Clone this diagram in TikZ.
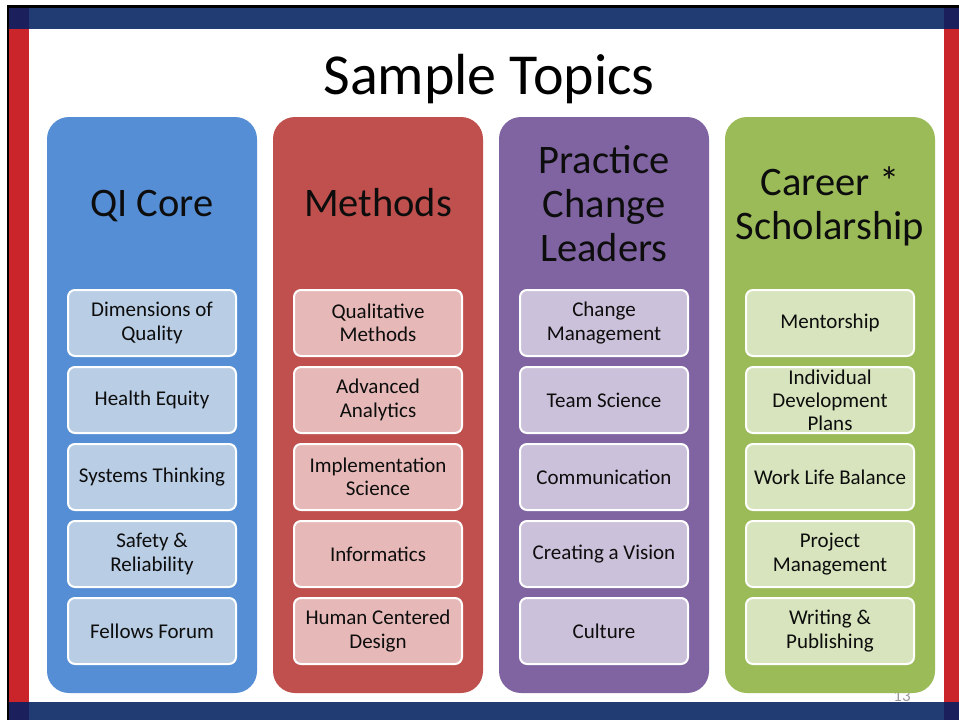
\documentclass[tikz,border=0pt]{standalone}
\usepackage{fontspec}
\setmainfont{Carlito}
\definecolor{navyband}{HTML}{213B73}
\definecolor{navycorner}{HTML}{1B1F5C}
\definecolor{redband}{HTML}{C9252B}
\definecolor{colA}{HTML}{558ED5}
\definecolor{colB}{HTML}{C0504D}
\definecolor{colC}{HTML}{8064A2}
\definecolor{colD}{HTML}{9BBB59}
\definecolor{boxA}{HTML}{B9CDE5}
\definecolor{boxB}{HTML}{E6B9B8}
\definecolor{boxC}{HTML}{CCC1DA}
\definecolor{boxD}{HTML}{D7E4BD}
\definecolor{txt}{HTML}{0D0D0D}
\tikzset{
  column/.style={rounded corners=22pt, minimum width=210pt, minimum height=576pt, inner sep=0pt},
  header/.style={align=center, text=txt, font=\fontsize{40.5}{44}\selectfont},
  item/.style={rounded corners=7pt, draw=white, line width=2pt, minimum width=168pt, minimum height=66pt, inner sep=0pt, align=center, text=txt, font=\fontsize{21}{23.5}\selectfont},
}
\begin{document}
\begin{tikzpicture}[x=1pt,y=-1pt]
\useasboundingbox (0,0) rectangle (959,720);
\fill[white] (0,0) rectangle (959,720);
% page number (partly hidden by band)
\node[text=gray!80, font=\fontsize{17}{17}\selectfont] (pnum) at (902,696) {13};
% frame
\fill[black] (7,5) rectangle (959,8);
\fill[black] (7,5) rectangle (9,720);
\fill[navyband] (9,8) rectangle (959,29);
\fill[navyband] (9,702) rectangle (959,720);
\fill[redband] (9,29) rectangle (29,702);
\fill[redband] (944,29) rectangle (959,702);
\fill[navycorner] (9,8) rectangle (29,29);
\fill[navycorner] (944,8) rectangle (959,29);
\fill[navycorner] (9,702) rectangle (29,720);
\fill[navycorner] (944,702) rectangle (959,720);
% title
\node[text=black, font=\fontsize{58}{60}\selectfont] (title) at (489,79) {Sample Topics};
% columns
\node[column, fill=colA] (c1) at (152,405) {};
\node[column, fill=colB] (c2) at (378,405) {};
\node[column, fill=colC] (c3) at (604,405) {};
\node[column, fill=colD] (c4) at (830,405) {};
% headers
\node[header] (h1) at (152,206) {QI Core};
\node[header] (h2) at (378,203) {Methods};
\node[header] (h3) at (604,204) {Practice\\Change\\Leaders};
\node[header] (h4) at (830,206) {Career *\\Scholarship};
% items column 1
\node[item, fill=boxA] (a1) at (152,323) {Dimensions of\\Quality};
\node[item, fill=boxA] (a2) at (152,400) {Health Equity};
\node[item, fill=boxA] (a3) at (152,477) {Systems Thinking};
\node[item, fill=boxA] (a4) at (152,554) {Safety \&\\Reliability};
\node[item, fill=boxA] (a5) at (152,631) {Fellows Forum};
% column 2
\node[item, fill=boxB] (b1) at (378,323) {Qualitative\\Methods};
\node[item, fill=boxB] (b2) at (378,400) {Advanced\\Analytics};
\node[item, fill=boxB] (b3) at (378,477) {Implementation\\Science};
\node[item, fill=boxB] (b4) at (378,554) {Informatics};
\node[item, fill=boxB] (b5) at (378,631) {Human Centered\\Design};
% column 3
\node[item, fill=boxC] (p1) at (604,323) {Change\\Management};
\node[item, fill=boxC] (p2) at (604,400) {Team Science};
\node[item, fill=boxC] (p3) at (604,477) {Communication};
\node[item, fill=boxC] (p4) at (604,554) {Creating a Vision};
\node[item, fill=boxC] (p5) at (604,631) {Culture};
% column 4
\node[item, fill=boxD] (d1) at (830,323) {Mentorship};
\node[item, fill=boxD, font=\fontsize{21}{23}\selectfont] (d2) at (830,400) {Individual\\Development\\Plans};
\node[item, fill=boxD] (d3) at (830,477) {Work Life Balance};
\node[item, fill=boxD] (d4) at (830,554) {Project\\Management};
\node[item, fill=boxD] (d5) at (830,631) {Writing \&\\Publishing};
\end{tikzpicture}
\end{document}
